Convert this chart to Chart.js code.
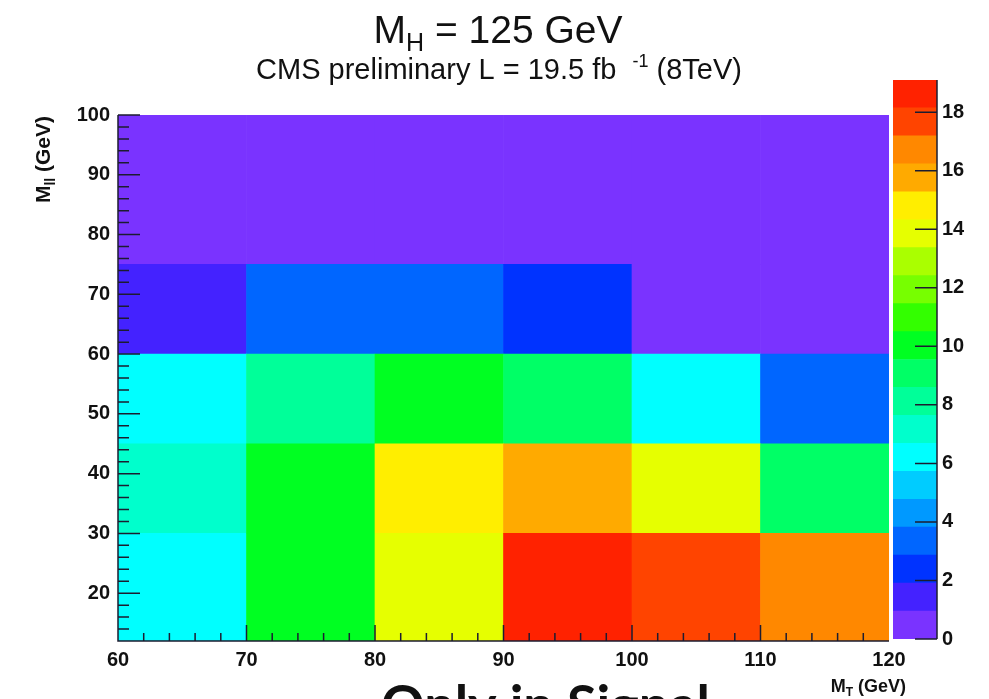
<!DOCTYPE html>
<html>
<head>
<meta charset="utf-8">
<script src="https://cdn.jsdelivr.net/npm/chart.js@4.4.0/dist/chart.umd.min.js"></script>
<style>
  html, body { margin: 0; padding: 0; background: #fff; }
  #wrap { position: relative; width: 989px; height: 699px; overflow: hidden; }
  #main { position: absolute; left: 0; top: 0; }
  #zbar { position: absolute; left: 880px; top: 0; }
</style>
</head>
<body>
<div id="wrap">
  <canvas id="main" width="989" height="699"></canvas>
  <canvas id="zbar" width="109" height="699"></canvas>
</div>
<script>
// bin edges of the 2D histogram (M_T across, M_ll up)
const mtEdges = [60, 70, 80, 90, 100, 110, 120];
const mllEdges = [12, 30, 45, 60, 75, 100];

// signal yield per bin, one array per M_ll row (low to high), M_T bins left to right
const row12to30 = [6.2, 10.0, 13.8, 18.6, 17.7, 16.7];
const row30to45 = [7.2, 10.0, 14.8, 15.8, 13.8, 9.1];
const row45to60 = [6.2, 8.1, 10.0, 9.1, 6.2, 3.3];
const row60to75 = [1.4, 3.3, 3.3, 2.4, 0.3, 0.3];
const row75to100 = [0.3, 0.3, 0.3, 0.3, 0.3, 0.3];
const rows = [row12to30, row30to45, row45to60, row60to75, row75to100];

const xTicks = [60, 70, 80, 90, 100, 110, 120];
const yTicks = [20, 30, 40, 50, 60, 70, 80, 90, 100];
const zTicks = [0, 2, 4, 6, 8, 10, 12, 14, 16, 18];
const zMax = 19.1;

// 20-level rainbow palette, lowest contour first
const palette = [
  '#7a33ff', '#4422ff', '#0033ff', '#0066ff', '#0099ff',
  '#00ccff', '#00ffff', '#00ffcc', '#00ff99', '#00ff66',
  '#00ff22', '#33ff00', '#77ff00', '#aaff00', '#e6ff00',
  '#ffee00', '#ffaa00', '#ff8800', '#ff4400', '#ff2200',
];
const nLevels = palette.length;

const FONT = '"Liberation Sans", Arial, Helvetica, sans-serif';
Chart.defaults.font.family = FONT;
Chart.defaults.color = '#111';

function colorFor(v) {
  return palette[Math.min(nLevels - 1, Math.floor(v / zMax * nLevels))];
}

const binLabels = mtEdges.slice(0, -1).map((lo, i) => lo + '-' + mtEdges[i + 1]);

// text with a sub/superscript piece; parts = [[text, sizePx, dy]]
function richWidth(ctx, parts, weight) {
  let w = 0;
  for (const [t, s] of parts) {
    ctx.font = `${weight} ${s}px ${FONT}`;
    w += ctx.measureText(t).width;
  }
  return w;
}
function drawRich(ctx, parts, x, y, weight) {
  let cx = x;
  for (const [t, s, dy] of parts) {
    ctx.font = `${weight} ${s}px ${FONT}`;
    ctx.fillText(t, cx, y + dy);
    cx += ctx.measureText(t).width;
  }
}

// inward ticks + axis lines, ROOT style
const frameTicks = {
  id: 'frameTicks',
  afterDatasetsDraw(chart) {
    const { ctx, chartArea: a, scales } = chart;
    const xs = scales.x, ys = scales.y;
    ctx.save();
    ctx.strokeStyle = '#1c1c30';
    ctx.lineWidth = 1.5;
    ctx.beginPath();
    ctx.moveTo(a.left, a.top);
    ctx.lineTo(a.left, a.bottom);
    ctx.lineTo(a.right, a.bottom);
    ctx.stroke();
    ctx.beginPath();
    for (let v = 14; v <= 100; v += 2) {
      const py = ys.getPixelForValue(v);
      const len = v % 10 === 0 ? 22 : 11;
      ctx.moveTo(a.left, py);
      ctx.lineTo(a.left + len, py);
    }
    for (let v = 62; v < 120; v += 2) {
      const px = xs.getPixelForValue(v);
      const len = v % 10 === 0 ? 16 : 8;
      ctx.moveTo(px, a.bottom);
      ctx.lineTo(px, a.bottom - len);
    }
    ctx.stroke();
    ctx.restore();
  },
  afterDraw(chart) {
    const { ctx } = chart;
    ctx.save();
    ctx.fillStyle = '#111';
    ctx.textBaseline = 'alphabetic';

    const title = [['M', 39, 0], ['H', 25, 8], [' = 125 GeV', 39, 0]];
    let w = richWidth(ctx, title, 'normal');
    drawRich(ctx, title, 498 - w / 2, 43, 'normal');

    const sub = [['CMS preliminary L = 19.5 fb  ', 29, 0], ['-1', 18, -12], [' (8TeV)', 29, 0]];
    w = richWidth(ctx, sub, 'normal');
    drawRich(ctx, sub, 499 - w / 2, 79, 'normal');

    // x axis title, right aligned at the frame end
    const xt = [['M', 18, 0], ['T', 12, 4], [' (GeV)', 18, 0]];
    w = richWidth(ctx, xt, 'bold');
    drawRich(ctx, xt, 906 - w, 692, 'bold');

    // y axis title, rotated, ending near the top of the frame
    const yt = [['M', 21, 0], ['ll', 14, 5], [' (GeV)', 21, 0]];
    w = richWidth(ctx, yt, 'bold');
    ctx.translate(50, 116);
    ctx.rotate(-Math.PI / 2);
    drawRich(ctx, yt, -w, 0, 'bold');
    ctx.setTransform(1, 0, 0, 1, 0, 0);

    ctx.font = `bold 54px Lato, ${FONT}`;
    ctx.fillText('Only in Signal', 381, 724);
    ctx.restore();
  },
};

new Chart(document.getElementById('main'), {
  type: 'bar',
  data: {
    labels: binLabels,
    datasets: rows.map((vals, r) => ({
      data: vals.map(() => [mllEdges[r], mllEdges[r + 1]]),
      backgroundColor: vals.map(colorFor),
      borderWidth: 0,
      barPercentage: 1,
      categoryPercentage: 1,
      grouped: false,
      xAxisID: 'bins',
      yAxisID: 'y',
    })),
  },
  options: {
    responsive: false,
    animation: false,
    layout: { padding: { top: 115, right: 100, left: 0, bottom: 0 } },
    plugins: { legend: { display: false }, tooltip: { enabled: false } },
    scales: {
      bins: { type: 'category', axis: 'x', display: false, offset: true },
      x: {
        type: 'linear', position: 'bottom', min: 60, max: 120, offset: false,
        afterBuildTicks: s => { s.ticks = xTicks.map(v => ({ value: v })); },
        afterFit: s => { s.height = 58; },
        grid: { display: false, drawTicks: false, offset: false },
        border: { display: false },
        ticks: { font: { size: 20, weight: 'bold' }, padding: 7, maxRotation: 0 },
      },
      y: {
        type: 'linear', min: 12, max: 100,
        afterBuildTicks: s => { s.ticks = yTicks.map(v => ({ value: v })); },
        afterFit: s => { s.width = 118; },
        grid: { display: false, drawTicks: false },
        border: { display: false },
        ticks: { font: { size: 20, weight: 'bold' }, padding: 8 },
      },
    },
  },
  plugins: [frameTicks],
});

// colour scale
const zAxisTicks = {
  id: 'zAxisTicks',
  afterDatasetsDraw(chart) {
    const { ctx, chartArea: a, scales } = chart;
    ctx.save();
    ctx.strokeStyle = '#1c1c30';
    ctx.lineWidth = 1.5;
    ctx.beginPath();
    ctx.moveTo(a.right, a.top);
    ctx.lineTo(a.right, a.bottom);
    for (const v of zTicks) {
      const py = scales.y.getPixelForValue(v);
      ctx.moveTo(a.right, py);
      ctx.lineTo(a.right - 22, py);
    }
    ctx.stroke();
    ctx.restore();
  },
};

new Chart(document.getElementById('zbar'), {
  type: 'bar',
  data: {
    labels: ['z'],
    datasets: palette.map((c, i) => ({
      data: [[i * zMax / nLevels, (i + 1) * zMax / nLevels]],
      backgroundColor: c,
      borderWidth: 0,
      barPercentage: 1,
      categoryPercentage: 1,
      grouped: false,
    })),
  },
  options: {
    responsive: false,
    animation: false,
    layout: { padding: { top: 80, bottom: 60, left: 13, right: 0 } },
    plugins: { legend: { display: false }, tooltip: { enabled: false } },
    scales: {
      x: { display: false },
      y: {
        position: 'right', min: 0, max: zMax,
        afterBuildTicks: s => { s.ticks = zTicks.map(v => ({ value: v })); },
        afterFit: s => { s.width = 52; },
        grid: { display: false, drawTicks: false },
        border: { display: false },
        ticks: { font: { size: 20, weight: 'bold' }, padding: 5 },
      },
    },
  },
  plugins: [zAxisTicks],
});
</script>
</body>
</html>
